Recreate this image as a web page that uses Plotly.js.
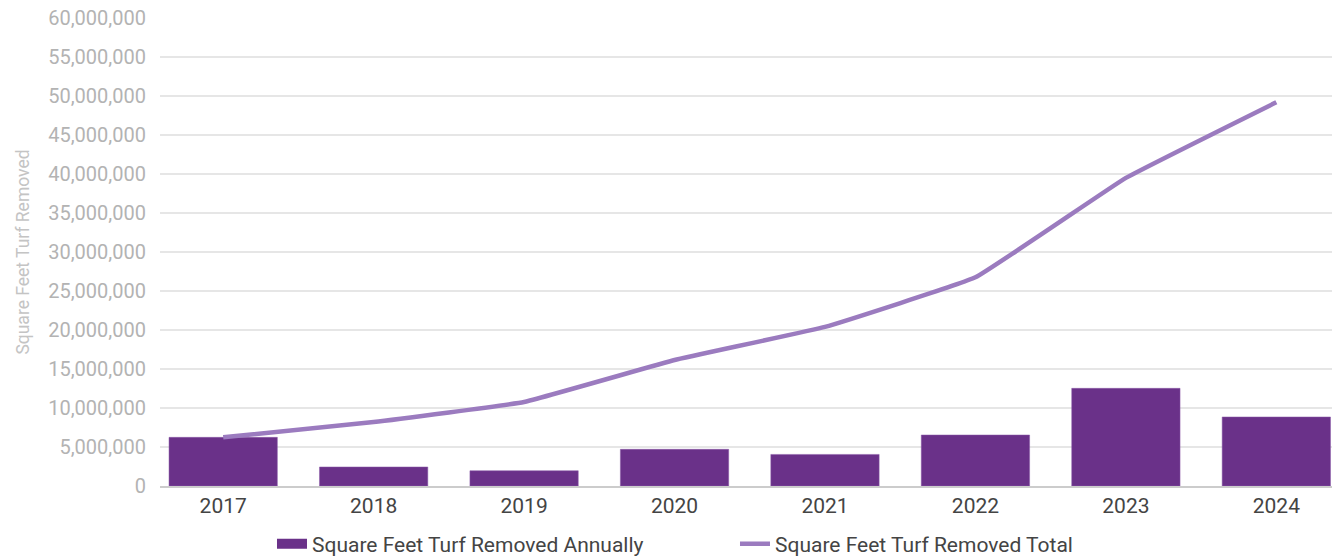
<!DOCTYPE html>
<html>
<head>
<meta charset="utf-8">
<script src="https://cdn.plot.ly/plotly-3.0.1.min.js"></script>
<style>html,body{margin:0;padding:0;background:#fff;}#chart{width:1332px;height:558px;}</style>
</head>
<body>
<div id="chart"></div>
<script>
const years = ['2017','2018','2019','2020','2021','2022','2023','2024'];
const annual = [6240000, 2440000, 1960000, 4700000, 4050000, 6540000, 12520000, 8850000];
const total = [6240000, 8200000, 10770000, 16150000, 20400000, 26750000, 39500000, 49200000];
const yTicks = [0,5000000,10000000,15000000,20000000,25000000,30000000,35000000,40000000,45000000,50000000,55000000,60000000];
const seriesNames = ['Square Feet Turf Removed Annually', 'Square Feet Turf Removed Total'];

const barColor = '#6a3189';
const lineColor = '#9b7bbf';

const traces = [
  {
    type: 'bar', x: years, y: annual, name: seriesNames[0], showlegend: false,
    marker: {color: barColor, line: {color: '#8a5aa8', width: 0.5}},
    hoverinfo: 'skip'
  },
  {
    type: 'scatter', mode: 'lines', x: years, y: total, name: seriesNames[1], showlegend: false,
    line: {color: lineColor, width: 4.5, shape: 'spline', smoothing: 0.25},
    hoverinfo: 'skip'
  },
  // legend-only entries so the swatches look like the reference
  {
    type: 'scatter', mode: 'lines', x: [null], y: [null], name: seriesNames[0],
    line: {color: barColor, width: 13}, hoverinfo: 'skip'
  },
  {
    type: 'scatter', mode: 'lines', x: [null], y: [null], name: seriesNames[1],
    line: {color: lineColor, width: 4.5}, hoverinfo: 'skip'
  }
];

const layout = {
  width: 1332, height: 558,
  margin: {l: 160, r: 0, t: 18, b: 72, pad: 0},
  paper_bgcolor: '#fff', plot_bgcolor: '#fff',
  font: {family: 'Roboto, sans-serif', size: 20, color: '#444'},
  bargap: 0.28,
  showlegend: true,
  legend: {
    orientation: 'h', xref: 'container', x: 0.2042, xanchor: 'left',
    yref: 'container', y: 0.025, yanchor: 'middle',
    font: {family: 'Roboto, sans-serif', size: 21, color: '#444'},
    traceorder: 'normal', entrywidth: 418, entrywidthmode: 'pixels'
  },
  xaxis: {
    type: 'category', range: [-0.42, 7.37],
    showgrid: false, zeroline: false,
    showline: true, linecolor: '#cccccc', linewidth: 2,
    ticks: '', tickfont: {size: 21, color: '#444'},
    fixedrange: true
  },
  yaxis: {
    range: [0, 60000000],
    tickvals: yTicks, tickformat: ',d',
    showgrid: true, gridcolor: '#e6e6e6', gridwidth: 2,
    zeroline: false, showline: false,
    ticks: 'outside', ticklen: 9, tickcolor: 'rgba(0,0,0,0)',
    tickfont: {size: 20, color: '#b3b3b3'},
    title: {text: 'Square Feet Turf Removed', font: {size: 17.5, color: '#c4c4c4'}, standoff: 14},
    automargin: false,
    fixedrange: true
  }
};

Plotly.newPlot('chart', traces, layout, {displayModeBar: false, staticPlot: true});
</script>
</body>
</html>
